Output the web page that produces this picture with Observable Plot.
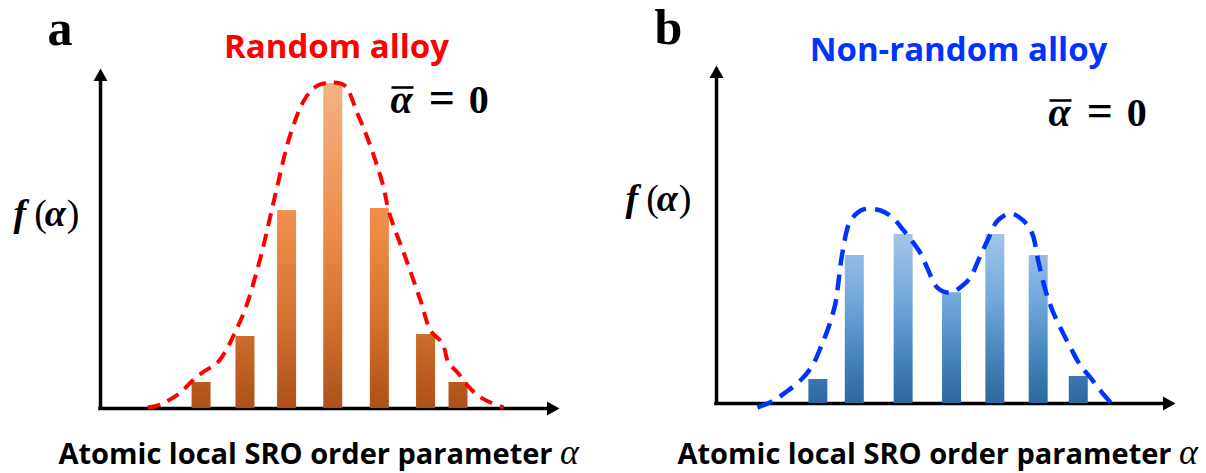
<!DOCTYPE html>
<html>
<head>
<meta charset="utf-8">
<script src="https://cdn.jsdelivr.net/npm/d3@7"></script>
<script src="https://cdn.jsdelivr.net/npm/@observablehq/plot@0.6"></script>
<style>
  html, body { margin: 0; padding: 0; background: #fff; }
  #wrap { display: flex; width: 1206px; height: 473px; overflow: hidden; }
  #wrap svg { display: block; }
</style>
</head>
<body>
<div id="wrap"></div>
<script>
// ---------- Panel a: random alloy ----------
const barAlphaA = [22.0, 31.6, 40.7, 50.8, 61.0, 71.1, 78.2];
const barFreqA  = [7.8, 21.6, 59.4, 97.5, 60.0, 22.2, 7.8];
const curveAlphaA = [10.3, 13.1, 17.5, 19.7, 22.3, 25.6, 27.8, 29.1, 31.7, 35.0, 38.3, 41.6, 44.9, 47.5, 50.7, 53.4, 56.2, 58.6, 61.7, 63.2, 66.7, 70.0, 72.2, 74.8, 76.1, 78.1, 80.3, 82.5, 85.3, 88.2];
const curveFreqA  = [0.3, 1.2, 4.8, 7.8, 10.8, 13.8, 18.3, 21.9, 30.0, 45.3, 64.5, 82.5, 93.3, 96.9, 97.8, 96.9, 88.5, 80.4, 67.5, 58.5, 45.3, 32.4, 23.4, 19.5, 13.8, 10.8, 6.9, 3.9, 1.8, 0.3];

// ---------- Panel b: non-random alloy ----------
const barAlphaB = [22.0, 29.9, 40.5, 51.0, 60.4, 69.8, 78.5];
const barFreqB  = [7.1, 43.8, 50.0, 32.8, 50.0, 43.8, 8.0];
const curveAlphaB = [8.9, 12.4, 15.0, 18.2, 20.8, 22.6, 24.3, 25.8, 26.5, 27.3, 29.1, 31.9, 35.6, 38.2, 40.6, 44.3, 45.8, 47.9, 50.8, 53.4, 55.1, 56.8, 58.8, 61.0, 63.8, 66.6, 68.5, 69.8, 71.4, 72.9, 74.6, 76.8, 79.0, 81.1, 83.3, 85.5];
const curveFreqB  = [-1.2, 0.9, 3.3, 6.8, 11.2, 16.6, 22.5, 29.6, 36.4, 44.4, 54.1, 57.4, 57.1, 55.0, 51.2, 44.4, 39.9, 34.3, 32.8, 34.9, 37.3, 42.3, 48.2, 54.1, 56.2, 54.1, 50.3, 42.3, 33.4, 27.5, 22.5, 16.6, 11.2, 7.7, 3.8, 0.3];

// ---------- Text ----------
const panelLetters = ["a", "b"];
const panelTitles = ["Random alloy", "Non-random alloy"];
const xLabelWords = "Atomic local SRO order parameter ";
const greekAlpha = "α";
const meanParts = ["α", "=", "0"];
const yLabelParts = ["f", "(", "α", ")"];

const SERIF = "'Liberation Serif', 'Times New Roman', serif";
const SANS = "'Open Sans', 'Noto Sans', sans-serif";

function zipPts(xs, ys) { return xs.map((x, i) => ({alpha: x, f: ys[i]})); }

function arrowSymbol(dir) {
  const L = 12.5, h = 7;
  return {
    draw(ctx) {
      if (dir === "right") { ctx.moveTo(0, 0); ctx.lineTo(-L, -h); ctx.lineTo(-L, h); ctx.closePath(); }
      else { ctx.moveTo(0, 0); ctx.lineTo(-h, L); ctx.lineTo(h, L); ctx.closePath(); }
    }
  };
}
// overline bar (for the mean symbol)
const overlineSymbol = {
  draw(ctx) { ctx.rect(-11, -1.3, 22, 2.6); }
};

function txt(s, o) {
  return Plot.text([s], {
    text: d => d, frameAnchor: "top-left", lineAnchor: "bottom",
    textAnchor: o.anchor || "start", dx: o.dx, dy: o.dy,
    fontSize: o.size, fontFamily: o.family, fontWeight: o.weight || "bold",
    fontStyle: o.style || "normal", fill: o.color || "black",
    className: o.cls
  });
}

let richCount = 0;
function rich(parts, o, specs) {
  const cls = "rich-" + (richCount++);
  specs.push({cls, parts});
  return txt(parts.map(p => p.s).join(""), {...o, cls});
}
function applyRich(svg, specs) {
  for (const {cls, parts} of specs) {
    d3.select(svg).selectAll(`.${cls} text`).each(function () {
      const t = d3.select(this);
      t.text(null);
      for (const p of parts) {
        const ts = t.append("tspan").text(p.s);
        if (p.style) ts.attr("font-style", p.style);
        if (p.weight) ts.attr("font-weight", p.weight);
        if (p.size) ts.attr("font-size", p.size);
        if (p.family) ts.attr("font-family", p.family);
        if (p.dx) ts.attr("dx", p.dx);
      }
    });
  }
}

function panel(cfg) {
  const bars = zipPts(cfg.barAlpha, cfg.barFreq);
  const curve = zipPts(cfg.curveAlpha, cfg.curveFreq);
  const [x0, x1] = cfg.xDomain, [y0, y1] = cfg.yDomain;
  const gradId = "grad-" + cfg.key;
  const t = cfg.text;
  const specs = [];
  const marks = [
    // axes with arrow heads
    Plot.ruleY([y0], {x1: x0, x2: x1 - 1.5, stroke: "black", strokeWidth: 3.5, strokeLinecap: "square"}),
    Plot.ruleX([x0], {y1: y0, y2: y1 - 2, stroke: "black", strokeWidth: 3.5, strokeLinecap: "square"}),
    Plot.dot([{alpha: x1, f: y0}], {x: "alpha", y: "f", symbol: arrowSymbol("right"), fill: "black"}),
    Plot.dot([{alpha: x0, f: y1}], {x: "alpha", y: "f", symbol: arrowSymbol("up"), fill: "black"}),
    // bars
    Plot.ruleX(bars, {x: "alpha", y1: 0, y2: "f", stroke: `url(#${gradId})`, strokeWidth: 19}),
    // dashed envelope
    Plot.line(curve, {x: "alpha", y: "f", curve: "catmull-rom", stroke: cfg.curveColor,
      strokeWidth: cfg.curveWidth, strokeDasharray: cfg.dash, strokeLinecap: "butt"}),
    // panel letter and title
    txt(cfg.letter, {dx: t.letter[0], dy: t.letter[1], size: 50, family: SERIF}),
    txt(cfg.title, {dx: t.title[0], dy: t.title[1], size: 33, family: SANS, color: cfg.titleColor, anchor: "middle"}),
    // mean alpha = 0
    rich([
      {s: meanParts[0], style: "italic"},
      {s: meanParts[1], size: 46, dx: 16},
      {s: meanParts[2], dx: 14}
    ], {dx: t.mean[0], dy: t.mean[1], size: 40, family: SERIF}, specs),
    Plot.dot([0], {frameAnchor: "top-left", dx: t.mean[0] + 12, dy: t.mean[1] - 25, symbol: overlineSymbol, fill: "black"}),
    // y label f(alpha)
    rich([
      {s: yLabelParts[0], style: "italic"},
      {s: yLabelParts[1], weight: "normal", dx: 8},
      {s: yLabelParts[2], style: "italic", dx: -2},
      {s: yLabelParts[3], weight: "normal", dx: 1}
    ], {dx: t.ylab[0], dy: t.ylab[1], size: 38, family: SERIF}, specs),
    // x label
    rich([
      {s: xLabelWords},
      {s: greekAlpha, family: SERIF, weight: "normal", style: "italic", size: 36}
    ], {dx: t.xlab[0], dy: t.xlab[1], size: 29, family: SANS}, specs)
  ];
  const svg = Plot.plot({
    width: 603, height: 473,
    marginLeft: cfg.margins[0], marginRight: cfg.margins[1], marginTop: cfg.margins[2], marginBottom: cfg.margins[3],
    x: {domain: cfg.xDomain, axis: null},
    y: {domain: cfg.yDomain, axis: null},
    style: {background: "white", overflow: "visible"},
    marks
  });
  applyRich(svg, specs);
  const ys = svg.scale("y");
  const top = ys.apply(Math.max(...cfg.barFreq)), bottom = ys.apply(0);
  const grad = d3.select(svg).insert("defs", ":first-child")
    .append("linearGradient").attr("id", gradId)
    .attr("gradientUnits", "userSpaceOnUse")
    .attr("x1", 0).attr("x2", 0).attr("y1", top).attr("y2", bottom);
  cfg.stops.forEach(([o, c]) => grad.append("stop").attr("offset", o).attr("stop-color", c));
  return svg;
}

const wrap = document.getElementById("wrap");
wrap.appendChild(panel({
  key: "a", barAlpha: barAlphaA, barFreq: barFreqA, curveAlpha: curveAlphaA, curveFreq: curveFreqA,
  xDomain: [0, 100.4], yDomain: [0, 102], margins: [100, 44, 68, 65],
  curveColor: "#ff0000", curveWidth: 4, dash: "13 8",
  stops: [[0, "#f4b284"], [0.45, "#ee8b47"], [0.75, "#d1702d"], [1, "#ad5119"]],
  letter: panelLetters[0], title: panelTitles[0], titleColor: "#ff0000",
  text: {letter: [-53, -24], title: [236, -11], mean: [290, 44], ylab: [-87, 157], xlab: [-42, 395]}
}));
wrap.appendChild(panel({
  key: "b", barAlpha: barAlphaB, barFreq: barFreqB, curveAlpha: curveAlphaB, curveFreq: curveFreqB,
  xDomain: [0, 99.6], yDomain: [0, 100], margins: [113, 31, 65, 70],
  curveColor: "#0033ff", curveWidth: 4.5, dash: "16 9",
  stops: [[0, "#a3c5e8"], [0.4, "#70a7db"], [0.7, "#4a86bf"], [1, "#2c679f"]],
  letter: panelLetters[1], title: panelTitles[1], titleColor: "#0033ff",
  text: {letter: [-62, -22], title: [242, -5], mean: [332, 60], ylab: [-91, 145], xlab: [-39, 398]}
}));
</script>
</body>
</html>
